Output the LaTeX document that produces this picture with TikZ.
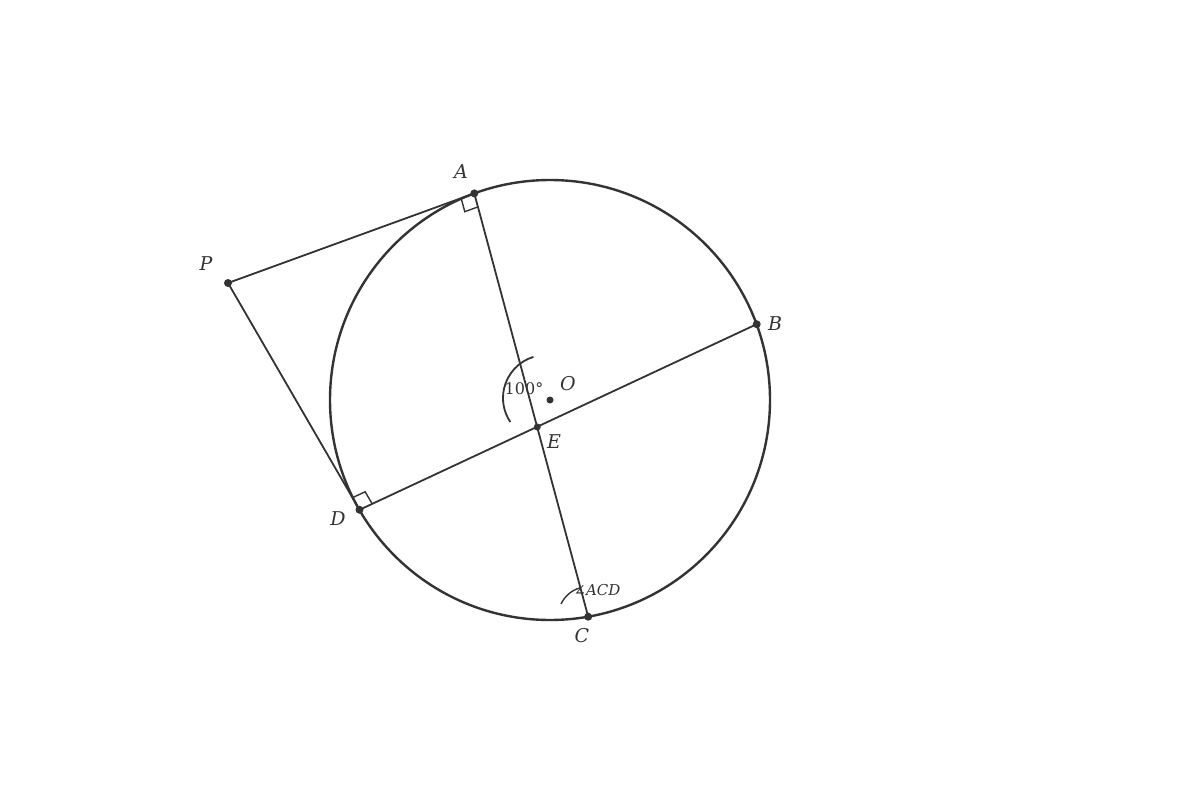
\documentclass[tikz,border=0pt]{standalone}
\usepackage{fontspec}
\setmainfont{DejaVu Serif}
\usetikzlibrary{calc}
\definecolor{ink}{HTML}{333333}
\begin{document}
\begin{tikzpicture}[x=1pt,y=-1pt,
  seg/.style={draw=ink,line width=1.8pt},
  pt/.style={circle,fill=ink,inner sep=0pt,minimum size=8pt},
  lbl/.style={text=ink,font=\fontsize{19}{23}\selectfont\itshape},
  ang/.style={text=ink,font=\fontsize{16}{19}\selectfont}]
\useasboundingbox (0,0) rectangle (1200,800);
\coordinate (O) at (550,400);
\coordinate (A) at (474.3,193.4);
\coordinate (B) at (756.7,324.2);
\coordinate (C) at (588.2,616.7);
\coordinate (D) at (359.5,509.8);
\coordinate (P) at (228,283);
\coordinate (E) at (537.3,427);
\draw[ink,line width=2.4pt] (O) circle[radius=220];
\draw[seg] (P) -- (A);
\draw[seg] (P) -- (D);
\draw[seg] (A) -- (C);
\draw[seg] (D) -- (B);
% right angle marks
\coordinate (a1) at ($(A)!14pt!(P)$);
\coordinate (a2) at ($(A)!14pt!(C)$);
\draw[ink,line width=1.4pt] (a1) -- ($(a1)+(a2)-(A)$) -- (a2);
\coordinate (d1) at ($(D)!14pt!(P)$);
\coordinate (d2) at ($(D)!14pt!(B)$);
\draw[ink,line width=1.4pt] (d1) -- ($(d1)+(d2)-(D)$) -- (d2);
% angle arcs
\draw[ink,line width=1.8pt] ([shift={(-107:43)}]546,398) arc[start angle=-107,end angle=-214,radius=43];
\draw[ink,line width=1.4pt] ([shift={(-105:30)}]C) arc[start angle=-105,end angle=-155,radius=30];
% points
\node[pt] (nA) at (A) {};
\node[pt] (nB) at (B) {};
\node[pt] (nC) at (C) {};
\node[pt] (nD) at (D) {};
\node[pt] (nP) at (P) {};
\node[pt,minimum size=7pt] (nE) at (E) {};
\node[pt,minimum size=7pt] (nO) at (O) {};
% labels
\node[lbl] (lA) at (461,172) {A};
\node[lbl] (lB) at (775,324) {B};
\node[lbl] (lC) at (582,636) {C};
\node[lbl] (lD) at (338,519) {D};
\node[lbl] (lP) at (206,264) {P};
\node[lbl] (lO) at (568,384) {O};
\node[lbl] (lE) at (554,442) {E};
\node[ang] (l100) at (524,389) {100°};
\node[ang,font=\fontsize{15}{18}\selectfont] (lacd) at (597,590) {∠\textit{ACD}};
\end{tikzpicture}
\end{document}
